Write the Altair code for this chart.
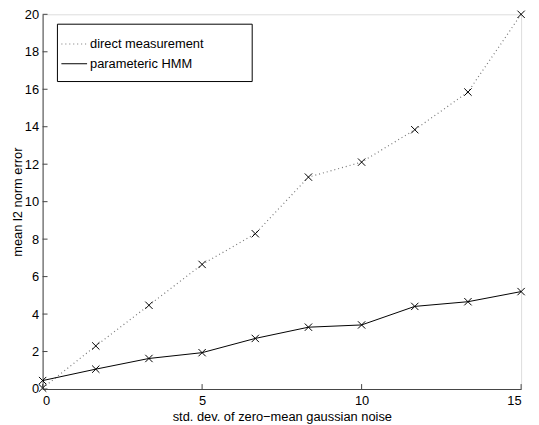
import altair as alt
import pandas as pd

x_vals = [0, 1.6667, 3.3333, 5, 6.6667, 8.3333, 10, 11.6667, 13.3333, 15]
direct = [0.05, 2.30, 4.47, 6.65, 8.29, 11.31, 12.11, 13.84, 15.85, 20.0]
hmm = [0.45, 1.06, 1.63, 1.94, 2.70, 3.30, 3.42, 4.41, 4.66, 5.20]
series_names = ["direct measurement", "parameteric HMM"]
x_ticks = [0, 5, 10, 15]
y_ticks = [0, 2, 4, 6, 8, 10, 12, 14, 16, 18, 20]

W, H = 484, 379
FONT = "Liberation Sans"
FS = 13

df = pd.DataFrame({
    "x": x_vals * 2,
    "y": direct + hmm,
    "series": [series_names[0]] * len(x_vals) + [series_names[1]] * len(x_vals),
})
df_d = df[df.series == series_names[0]]
df_h = df[df.series == series_names[1]]

xs = alt.Scale(domain=[0, 15], nice=False, zero=False)
ys = alt.Scale(domain=[0, 20], nice=False, zero=False)

xax = alt.Axis(values=x_ticks, grid=False, tickSize=0, domainColor="#444",
               labelFont=FONT, labelFontSize=FS, labelColor="black", labelPadding=6,
               title="std. dev. of zero\u2212mean gaussian noise", titleFont=FONT,
               titleFontSize=FS, titleFontWeight="normal", titleColor="black", titlePadding=3)
yax = alt.Axis(values=y_ticks, grid=False, tickSize=0, domainColor="#444",
               labelFont=FONT, labelFontSize=FS, labelColor="black", labelPadding=4,
               title="mean l2 norm error", titleFont=FONT, titleFontSize=FS,
               titleFontWeight="normal", titleColor="black", titlePadding=0)

X = alt.X("x:Q", scale=xs, axis=xax)
Y = alt.Y("y:Q", scale=ys, axis=yax)

line_d = alt.Chart(df_d).mark_line(color="#777", strokeDash=[1, 3], strokeWidth=1.2).encode(x=X, y=Y)
line_h = alt.Chart(df_h).mark_line(color="black", strokeWidth=1).encode(x=X, y=Y)
pts = alt.Chart(df).mark_point(shape="M-1,-1L1,1M-1,1L1,-1", filled=False, color="black",
                               size=55, strokeWidth=1, opacity=1).encode(x=X, y=Y)

xt = pd.DataFrame({"x": x_ticks})
yt = pd.DataFrame({"y": y_ticks})
xticks = alt.Chart(xt).mark_rule(color="#444").encode(
    x=X, y=alt.value(H), y2=alt.value(H - 5))
yticks = alt.Chart(yt).mark_rule(color="#444").encode(
    y=Y, x=alt.value(0), x2=alt.value(5))

one = pd.DataFrame({"a": [0]})
leg_box = alt.Chart(one).mark_rect(fill="white", stroke="black", strokeWidth=1).encode(
    x=alt.value(15), x2=alt.value(212), y=alt.value(10), y2=alt.value(68))
leg_d = alt.Chart(one).mark_rule(color="#777", strokeDash=[1, 3], strokeWidth=1.2).encode(
    x=alt.value(19), x2=alt.value(45), y=alt.value(30))
leg_h = alt.Chart(one).mark_rule(color="black", strokeWidth=1).encode(
    x=alt.value(19), x2=alt.value(45), y=alt.value(50))
leg_t1 = alt.Chart(one).mark_text(align="left", baseline="middle", font=FONT, fontSize=FS,
                                  color="black", text=series_names[0]).encode(
    x=alt.value(48), y=alt.value(30))
leg_t2 = alt.Chart(one).mark_text(align="left", baseline="middle", font=FONT, fontSize=FS,
                                  color="black", text=series_names[1]).encode(
    x=alt.value(48), y=alt.value(50))

chart = alt.layer(line_d, line_h, pts, xticks, yticks, leg_box, leg_d, leg_h, leg_t1, leg_t2).properties(
    width=W, height=H, autosize=alt.AutoSizeParams(type="none"),
    padding={"left": 35, "top": 4, "right": 10, "bottom": 33},
).configure_view(stroke=None).configure(background="white")

chart.save("out.html", embed_options={"renderer": "svg", "actions": False})
